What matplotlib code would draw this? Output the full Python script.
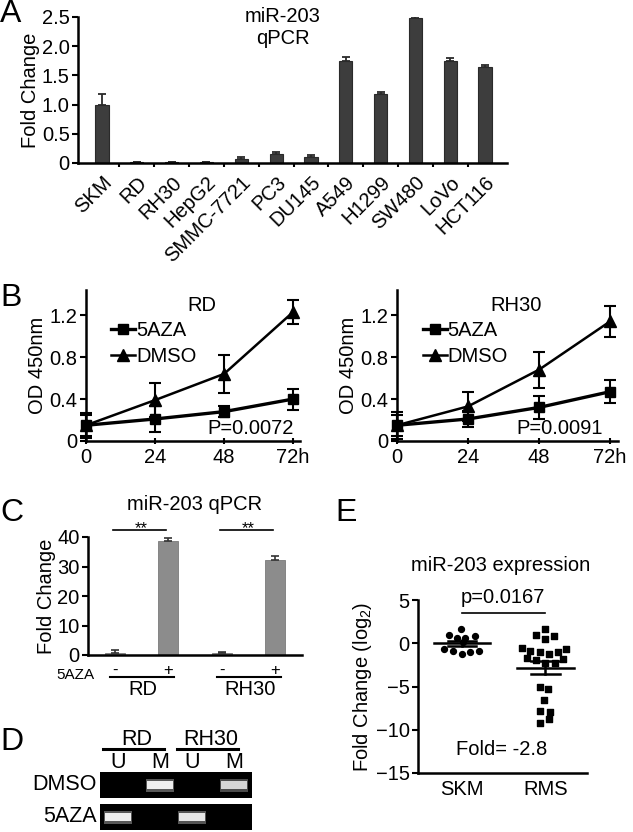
import numpy as np
import matplotlib
matplotlib.use("Agg")
import matplotlib.pyplot as plt
from matplotlib.lines import Line2D

plt.rcParams['font.family'] = ['Liberation Sans', 'DejaVu Sans']
plt.rcParams['mathtext.fontset'] = 'custom'
plt.rcParams['mathtext.rm'] = 'Liberation Sans'
plt.rcParams['mathtext.it'] = 'Liberation Sans:italic'
plt.rcParams['mathtext.default'] = 'regular'
plt.rcParams['font.size'] = 14.5

# ---- panel A: miR-203 qPCR in cell lines
cell_lines = ["SKM", "RD", "RH30", "HepG2", "SMMC-7721", "PC3", "DU145",
              "A549", "H1299", "SW480", "LoVo", "HCT116"]
fold_a = [1.0, 0.01, 0.01, 0.01, 0.06, 0.15, 0.10, 1.75, 1.18, 2.49, 1.75, 1.64]
err_a = [0.19, 0.0, 0.0, 0.0, 0.04, 0.03, 0.04, 0.06, 0.03, 0.04, 0.04, 0.04]

# ---- panel B: proliferation (OD 450nm)
hours = [0, 24, 48, 72]
rd_aza = [0.15, 0.21, 0.28, 0.40]
rd_aza_err = [0.12, 0.12, 0.05, 0.10]
rd_dmso = [0.15, 0.39, 0.64, 1.23]
rd_dmso_err = [0.10, 0.16, 0.18, 0.11]
rh30_aza = [0.15, 0.21, 0.32, 0.47]
rh30_aza_err = [0.13, 0.08, 0.11, 0.11]
rh30_dmso = [0.15, 0.33, 0.68, 1.14]
rh30_dmso_err = [0.10, 0.14, 0.17, 0.15]

# ---- panel C: 5AZA treatment
groups_c = ["RD", "RH30"]
aza_c = ["-", "+", "-", "+"]
fold_c = [0.8, 38.7, 0.6, 32.2]
err_c = [0.9, 1.0, 0.5, 1.4]

# ---- panel D: MSP gel
gel_lanes = ["U", "M", "U", "M"]
gel_groups = ["RD", "RH30"]
gel_rows = ["DMSO", "5AZA"]
band_dmso = [0.0, 1.0, 0.0, 0.85]
band_aza = [1.0, 0.0, 0.95, 0.0]

# ---- panel E: miR-203 expression (log2)
skm_vals = [1.7, 0.9, 0.65, 0.65, 0.8, 0.15, -0.7, -0.9, -1.2, -1.05, -0.9]
skm_jit = [-0.01, -0.16, -0.06, 0.04, 0.15, 0.01, -0.22, -0.11, 0.0, 0.10, 0.20]
rms_vals = [1.7, 0.92, 0.54, 0.8, -0.54, -0.89, -1.0, -1.27, -1.0, -0.69, -1.65,
            -1.88, -2.34, -2.34, -1.84, -5.04, -5.34, -6.57, -7.8, -7.9, -8.77, -9.27]
rms_jit = [-0.01, -0.11, 0.0, 0.10, -0.28, -0.18, -0.07, 0.04, 0.15, 0.25, -0.22,
           -0.11, 0.0, 0.11, 0.21, -0.07, 0.03, -0.02, -0.07, 0.05, 0.04, -0.07]

W, H = 633, 832
fig = plt.figure(figsize=(W / 100, H / 100), dpi=100)


def px_axes(l, t, r, b):
    return fig.add_axes([l / W, 1 - b / H, (r - l) / W, (b - t) / H])


def style(ax):
    for s in ["top", "right"]:
        ax.spines[s].set_visible(False)
    for s in ["left", "bottom"]:
        ax.spines[s].set_linewidth(1.8)
    ax.tick_params(width=1.5, length=4, pad=2)


def letter(x, y, s):
    fig.text(x / W, 1 - y / H, s, fontsize=23, va="center", ha="left")


# ---------------- A
ax = px_axes(78, 17, 507, 163)
style(ax)
xa = np.arange(len(cell_lines))
ax.bar(xa, fold_a, width=0.38, color="#3d3d3d", edgecolor="#2a2a2a", linewidth=0.8,
       yerr=[np.zeros(len(err_a)), err_a], error_kw=dict(ecolor="#2a2a2a", elinewidth=1.3, capsize=3, capthick=1.3))
ax.set_xlim(-0.69, 11.63)
ax.set_ylim(0, 2.5)
ax.set_yticks([0, 0.5, 1.0, 1.5, 2.0, 2.5])
ax.set_yticklabels(["0", "0.5", "1.0", "1.5", "2.0", "2.5"])
ax.set_xticks(xa)
ax.set_xticklabels(cell_lines, rotation=45, ha="right", va="top", rotation_mode="anchor")
ax.tick_params(axis="x", length=0, pad=7)
ax.set_xticks(xa[:-1] + 0.5, minor=True)
ax.tick_params(axis="x", which="minor", length=3, width=1.5)
ax.set_ylabel("Fold Change", labelpad=1)
ax.text(0.478, 0.925, "miR-203\nqPCR", transform=ax.transAxes, ha="center", va="center", linespacing=1.2)
letter(0, 14, "A")

# ---------------- B
def growth(ax, aza, aza_err, dmso, dmso_err, title, pval, right_lim, ptext_x):
    style(ax)
    ax.errorbar(hours, aza, yerr=aza_err, color="black", marker="s", markersize=7, linewidth=2.4,
                capsize=4, elinewidth=1.5, capthick=1.5, clip_on=False, zorder=3)
    ax.errorbar(hours, dmso, yerr=dmso_err, color="black", marker="^", markersize=9, linewidth=1.8,
                capsize=4, elinewidth=1.5, capthick=1.5, clip_on=False, zorder=3)
    ax.set_xlim(0, right_lim)
    ax.set_ylim(0, 1.44)
    ax.set_yticks([0, 0.4, 0.8, 1.2])
    ax.set_yticklabels(["0", "0.4", "0.8", "1.2"])
    ax.set_xticks(hours)
    ax.set_xticklabels(["0", "24", "48", "72h"])
    ax.tick_params(axis="x", direction="inout", length=4, pad=3)
    ax.set_ylabel("OD 450nm", labelpad=2)
    ax.text(0.54, 0.90, title, transform=ax.transAxes, ha="center", va="center")
    ax.text(ptext_x, 0.086, pval, transform=ax.transAxes, ha="right", va="center")
    handles = [Line2D([], [], color="black", marker="s", markersize=7, linewidth=2.4),
               Line2D([], [], color="black", marker="^", markersize=9, linewidth=1.8)]
    ax.legend(handles, ["5AZA", "DMSO"], loc="upper left", bbox_to_anchor=(0.07, 0.86), frameon=False,
              handlelength=1.2, handletextpad=0.05, labelspacing=0.35, borderpad=0)


ax = px_axes(86, 290, 300, 441)
growth(ax, rd_aza, rd_aza_err, rd_dmso, rd_dmso_err, "RD", "P=0.0072", 74.4, 0.97)
ax = px_axes(397, 290, 618, 441)
growth(ax, rh30_aza, rh30_aza_err, rh30_dmso, rh30_dmso_err, "RH30", "P=0.0091", 74.7, 0.93)
letter(0, 298, "B")

# ---------------- C
ax = px_axes(88, 537, 302, 655)
style(ax)
xc = np.arange(len(fold_c))
ax.bar(xc, fold_c, width=0.38, color="#8c8c8c", edgecolor="#7a7a7a", linewidth=0.6,
       yerr=[np.zeros(len(err_c)), err_c], error_kw=dict(ecolor="#333333", elinewidth=1.2, capsize=3, capthick=1.2))
ax.set_xlim(-0.5, 3.5)
ax.set_ylim(0, 40)
ax.set_yticks([0, 10, 20, 30, 40])
ax.set_xticks([])
ax.set_ylabel("Fold Change", labelpad=1)
ax.text(1.5, 51.0, "miR-203 qPCR", ha="center", va="center")
for g in range(len(groups_c)):
    x0 = 2 * g
    ax.plot([x0 - 0.04, x0 + 0.96], [42.4, 42.4], color="black", lw=1.2, clip_on=False)
    ax.text(x0 + 0.5, 42.9, "**", ha="center", va="center", fontsize=12)
    ax.plot([x0 - 0.09, x0 + 1.1], [-7.6, -7.6], color="black", lw=1.5, clip_on=False)
    ax.text(x0 + 0.53, -11.6, groups_c[g], ha="center", va="center")
for x, s in zip(xc, aza_c):
    ax.text(x, -6.8, s, ha="center", va="baseline", fontsize=12)
ax.text(-0.38, -8.0, "5AZA", ha="right", va="baseline", fontsize=11)
letter(0, 513, "C")

# ---------------- D
lane_x = [0, 1, 1.76, 2.76]
for i, (row, bands) in enumerate(zip(gel_rows, [band_dmso, band_aza])):
    top = 772 + i * 32
    gx = px_axes(100, top, 252, top + 26)
    gx.set_facecolor("black")
    gx.set_xlim(-0.43, 3.19)
    gx.set_ylim(0, 1)
    gx.set_xticks([])
    gx.set_yticks([])
    for s in gx.spines.values():
        s.set_visible(False)
    for lx, b in zip(lane_x, bands):
        if b > 0:
            gx.bar(lx, 0.5, bottom=0.25, width=0.66, color="white", alpha=0.35 * b, linewidth=0)
            gx.bar(lx, 0.32, bottom=0.34, width=0.6, color="#eeeeee", alpha=b, linewidth=0)
    gx.text(-0.02, 0.5, row, transform=gx.transAxes, ha="right", va="center", fontsize=15.5)
    if i == 0:
        tr = gx.get_xaxis_transform()
        for lx, s in zip(lane_x, gel_lanes):
            gx.text(lx, 1.36, s, transform=tr, ha="center", va="center", fontsize=15.5)
        for g, name in enumerate(gel_groups):
            c = (lane_x[2 * g] + lane_x[2 * g + 1]) / 2
            gx.plot([c - 0.86, c + 0.6], [1.88, 1.88], transform=tr, color="black", lw=2.2, clip_on=False)
            gx.text(c - 0.05, 2.25, name, transform=tr, ha="center", va="center", fontsize=15.5)
letter(0, 742, "D")

# ---------------- E
ax = px_axes(418, 600, 587, 773)
style(ax)
ax.scatter(np.array(skm_jit), skm_vals, marker="o", s=18, color="black", zorder=3)
ax.scatter(1 + np.array(rms_jit), rms_vals, marker="s", s=16, color="black", zorder=3)
for x, vals in [(0, skm_vals), (1, rms_vals)]:
    m = np.mean(vals)
    sem = np.std(vals, ddof=1) / np.sqrt(len(vals))
    ax.plot([x - 0.34, x + 0.34], [m, m], color="black", lw=1.8, zorder=4)
    ax.plot([x, x], [m - sem, m + sem], color="black", lw=1.8, zorder=4)
    ax.plot([x - 0.17, x + 0.17], [m - sem, m - sem], color="black", lw=1.8, zorder=4)
    ax.plot([x - 0.17, x + 0.17], [m + sem, m + sem], color="black", lw=1.8, zorder=4)
ax.set_xlim(-0.53, 1.5)
ax.set_ylim(-15, 5)
ax.set_yticks([5, 0, -5, -10, -15])
ax.set_xticks([0, 1])
ax.set_xticklabels(["SKM", "RMS"])
ax.tick_params(axis="x", length=0, pad=5)
ax.set_ylabel("Fold Change (log$_2$)", labelpad=1)
ax.plot([0, 1], [3.5, 3.5], color="black", lw=1.2, clip_on=False)
ax.text(0.49, 5.3, "p=0.0167", ha="center", va="center")
ax.text(0.47, -12.3, "Fold= -2.8", ha="center", va="center")
ax.text(0.46, 9.0, "miR-203 expression", ha="center", va="center")
letter(335, 513, "E")

fig.savefig("out.png", dpi=100)
